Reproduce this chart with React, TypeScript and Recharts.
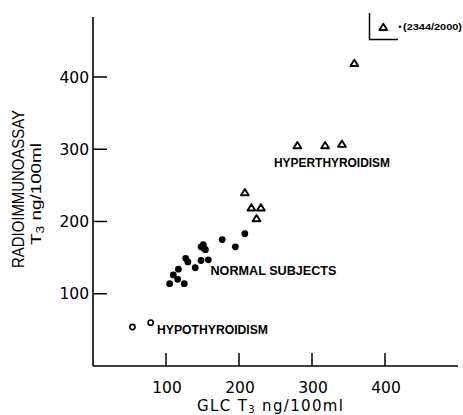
import { ScatterChart, Scatter, XAxis, YAxis } from 'recharts'

// GLC T3 (x) vs radioimmunoassay T3 (y), ng/100ml
const hypoGlc = [54, 79]
const hypoRia = [54, 60]

const normalGlc = [105, 110, 116, 117, 125, 127, 130, 140, 148, 148, 151, 152, 154, 158, 177, 195, 208]
const normalRia = [114, 126, 120, 134, 114, 149, 144, 136, 146, 165, 168, 163, 161, 147, 175, 165, 183]

const hyperGlc = [208, 217, 230, 224, 280, 318, 341, 358]
const hyperRia = [240, 219, 219, 204, 305, 305, 307, 419]

const axisTicks = [100, 200, 300, 400]

const toPoints = (xs: number[], ys: number[]) => xs.map((x, i) => ({ x, y: ys[i] }))

const hypoData = toPoints(hypoGlc, hypoRia)
const normalData = toPoints(normalGlc, normalRia)
const hyperData = toPoints(hyperGlc, hyperRia)

const tickFont = '"DejaVu Sans", sans-serif'
const labelFont = '"Liberation Sans", Arial, sans-serif'

const FilledDot = ({ cx, cy }: any) => <circle cx={cx} cy={cy} r={3.4} fill="#000" />

const OpenDot = ({ cx, cy }: any) => (
  <circle cx={cx} cy={cy} r={2.6} fill="#fff" stroke="#000" strokeWidth={1.6} />
)

const triPath = (cx: number, cy: number) =>
  `M${cx},${cy - 3.6} L${cx + 3.9},${cy + 2.7} L${cx - 3.9},${cy + 2.7} Z`

const Triangle = ({ cx, cy }: any) => (
  <path d={triPath(cx, cy)} fill="#fff" stroke="#000" strokeWidth={1.9} strokeLinejoin="round" />
)

const XTick = ({ x, y, payload }: any) => (
  <g>
    <line x1={x} y1={y} x2={x} y2={y - 13} stroke="#000" strokeWidth={1.5} />
    <text x={x + 1} y={y + 27} textAnchor="middle" fontSize={15.5} fontFamily={tickFont} fill="#000">
      {payload.value}
    </text>
  </g>
)

const YTick = ({ x, y, payload }: any) => (
  <g>
    <line x1={x} y1={y} x2={x + 14} y2={y} stroke="#000" strokeWidth={1.5} />
    <text x={x - 4} y={y} dy="0.36em" textAnchor="end" fontSize={15.5} fontFamily={tickFont} fill="#000">
      {payload.value}
    </text>
  </g>
)

function Overlay() {
  return (
    <svg
      width={463}
      height={415}
      style={{ position: 'absolute', left: 0, top: 0, pointerEvents: 'none' }}
    >
      {/* y axis title, two lines reading upward */}
      <text
        transform="translate(23.5,268) rotate(-90)"
        fontSize={16}
        fontFamily={labelFont}
        textLength={158}
        lengthAdjust="spacingAndGlyphs"
      >
        RADIOIMMUNOASSAY
      </text>
      <text
        transform="translate(40.5,245) rotate(-90)"
        fontSize={15}
        fontFamily={labelFont}
        textLength={102}
        lengthAdjust="spacingAndGlyphs"
      >
        T<tspan fontSize={11} dy={3}>3</tspan>
        <tspan dy={-3}> ng/100ml</tspan>
      </text>

      {/* x axis title */}
      <text x={197} y={410.5} fontSize={15} fontFamily={tickFont} textLength={146} lengthAdjust="spacing">
        GLC{'  '}T<tspan fontSize={10} dy={2.5}>3</tspan>
        <tspan dy={-2.5}> ng/100ml</tspan>
      </text>

      {/* group labels */}
      <text x={274} y={166.5} fontSize={13.5} fontWeight="bold" fontFamily={labelFont}
        textLength={116} lengthAdjust="spacingAndGlyphs">
        HYPERTHYROIDISM
      </text>
      <text x={210.5} y={275} fontSize={13.5} fontWeight="bold" fontFamily={labelFont}
        textLength={126} lengthAdjust="spacingAndGlyphs">
        NORMAL SUBJECTS
      </text>
      <text x={157} y={334} fontSize={13.5} fontWeight="bold" fontFamily={labelFont}
        textLength={111} lengthAdjust="spacingAndGlyphs">
        HYPOTHYROIDISM
      </text>

      {/* off-scale point note */}
      <polyline points="369.5,13 369.5,39.5 398,39.5" fill="none" stroke="#000" strokeWidth={1.5} />
      <path d={triPath(383.3, 27.3)} fill="#fff" stroke="#000" strokeWidth={1.8} strokeLinejoin="round" />
      <circle cx={400} cy={26.8} r={1.3} fill="#000" />
      <text x={403} y={29.8} fontSize={8.5} fontWeight="bold" fontFamily={labelFont}
        textLength={59} lengthAdjust="spacingAndGlyphs">
        (2344/2000)
      </text>
    </svg>
  )
}

export default function App() {
  return (
    <div style={{ position: 'absolute', left: 0, top: 0, width: 463, height: 415, background: '#fff' }}>
      <ScatterChart width={463} height={415} margin={{ top: 17, right: 5, bottom: 0, left: 0 }}>
        <XAxis
          type="number"
          dataKey="x"
          domain={[0, 500]}
          ticks={axisTicks}
          height={49}
          tickSize={0}
          tickMargin={0}
          tickLine={false}
          axisLine={{ stroke: '#000', strokeWidth: 1.6 }}
          tick={<XTick />}
        />
        <YAxis
          type="number"
          dataKey="y"
          domain={[0, 483]}
          ticks={axisTicks}
          width={93}
          tickSize={0}
          tickMargin={0}
          tickLine={false}
          axisLine={{ stroke: '#000', strokeWidth: 1.6 }}
          tick={<YTick />}
        />
        <Scatter data={hypoData} shape={<OpenDot />} isAnimationActive={false} />
        <Scatter data={normalData} shape={<FilledDot />} isAnimationActive={false} />
        <Scatter data={hyperData} shape={<Triangle />} isAnimationActive={false} />
      </ScatterChart>
      <Overlay />
    </div>
  )
}
